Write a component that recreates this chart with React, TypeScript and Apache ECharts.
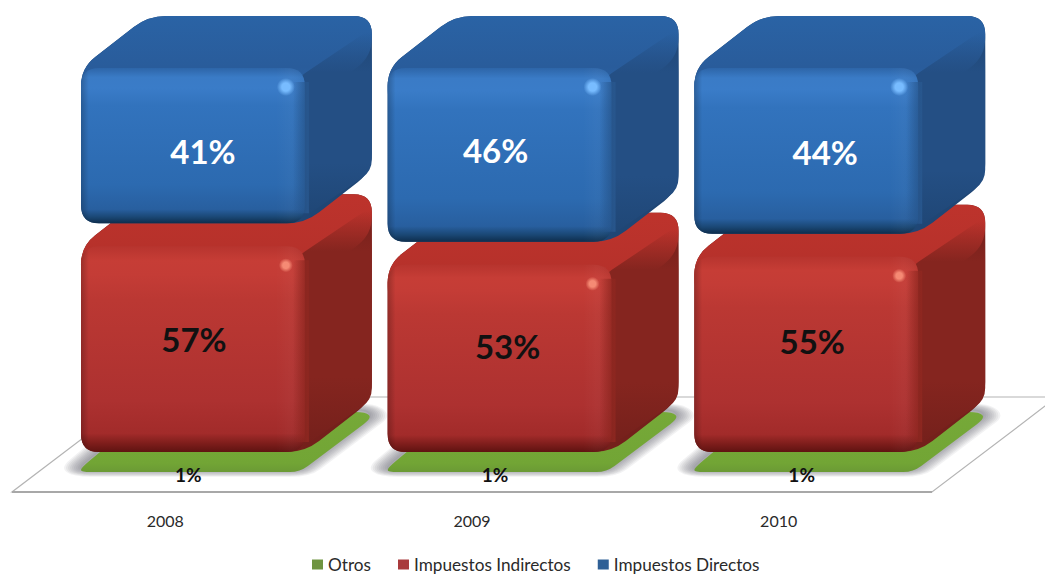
import React, { useEffect, useRef } from "react";
import * as echarts from "echarts";

const years = ["2008", "2009", "2010"];
const otros = [1, 1, 1];
const indirectos = [57, 53, 55];
const directos = [41, 46, 44];

const FONT = "Lato, 'Open Sans', sans-serif";

// Box projection, relative to the width of a category band.
const BOX_LEFT = -0.275;
const BOX_RIGHT = 0.455;
const DEPTH_X = 67;
const DEPTH_Y = -52;
const SIDE_FADE_PX = 42;

// Floor parallelogram.
const FLOOR = { left: 12, right: 932, front: 492, dx: 125, dy: -95 };

const totals = years.map((_, i) => otros[i] + indirectos[i] + directos[i]);

// Each stack is normalised to 100 %: rows are [category, start, end, stated value].
function stackRows(values: number[], below: number[][]) {
  return values.map((v, i) => {
    const base = below.reduce((s, b) => s + b[i], 0);
    return [i, (base / totals[i]) * 100, ((base + v) / totals[i]) * 100, v];
  });
}

type Pt = [number, number];

// Closed polygon whose corners are rounded with quadratic curves.
function rounded(points: Pt[], r: number) {
  const n = points.length;
  let d = "";
  for (let i = 0; i < n; i++) {
    const p = points[i];
    const a = points[(i + n - 1) % n];
    const b = points[(i + 1) % n];
    const la = Math.hypot(a[0] - p[0], a[1] - p[1]);
    const lb = Math.hypot(b[0] - p[0], b[1] - p[1]);
    const ra = Math.min(r, la / 2);
    const rb = Math.min(r, lb / 2);
    const s = [p[0] + ((a[0] - p[0]) * ra) / la, p[1] + ((a[1] - p[1]) * ra) / la];
    const e = [p[0] + ((b[0] - p[0]) * rb) / lb, p[1] + ((b[1] - p[1]) * rb) / lb];
    d += `${i === 0 ? "M" : "L"}${s[0]} ${s[1]}Q${p[0]} ${p[1]} ${e[0]} ${e[1]}`;
  }
  return d + "Z";
}

const vertical = (stops: [number, string][]) => ({
  type: "linear", x: 0, y: 0, x2: 0, y2: 1,
  colorStops: stops.map(([offset, color]) => ({ offset, color })),
});
const horizontal = (stops: [number, string][]) => ({
  type: "linear", x: 0, y: 0, x2: 1, y2: 0,
  colorStops: stops.map(([offset, color]) => ({ offset, color })),
});

const path = (d: string, fill: any, extra: any = {}, props: any = {}) => ({
  type: "path",
  shape: { pathData: d },
  style: { fill, ...extra },
  silent: true,
  ...props,
});

type Skin = {
  front: [number, string][];
  top: any;
  sideFade: string;
  sideSolid: string;
  base: string;
  seam: [string, string];
  spot: string;
  spotFade: string;
  spotR: number;
  insetTop: number;
  insetBottom: number;
  text: string;
  nudge: Pt[];
};

const blueSkin: Skin = {
  front: [
    [0, "#2d65a8"], [0.06, "#3a7bc6"], [0.13, "#3a7cc8"], [0.24, "#3273bd"], [0.75, "#2c6ab0"],
    [0.91, "#285f9f"], [0.96, "#1a4774"], [1, "#0e2d4c"],
  ],
  top: vertical([[0, "#2a63a5"], [0.55, "#295c9b"], [1, "#2d66a9"]]),
  sideFade: "rgba(36,79,132,0)",
  sideSolid: "#244f84",
  base: "#1f4675",
  seam: ["rgba(40,87,142,0)", "rgba(40,87,142,0.95)"],
  spot: "#78bcff",
  spotFade: "rgba(120,188,255,0)",
  spotR: 9,
  insetTop: 0,
  insetBottom: 12,
  text: "#ffffff",
  nudge: [[10, 5], [-4, -5], [19, 1]],
};

const redSkin: Skin = {
  front: [
    [0, "#b7342e"], [0.07, "#c63d36"], [0.14, "#c43c36"], [0.26, "#bb3833"], [0.75, "#ad3130"],
    [0.91, "#a22b2a"], [0.96, "#7d1d1b"], [1, "#5f1311"],
  ],
  top: vertical([[0, "#bd332c"], [1, "#b2302a"]]),
  sideFade: "rgba(133,37,31,0)",
  sideSolid: "#85251f",
  base: "#74201b",
  seam: ["rgba(142,39,32,0)", "rgba(142,39,32,0.95)"],
  spot: "#f58a74",
  spotFade: "rgba(245,138,116,0)",
  spotR: 7,
  insetTop: 11,
  insetBottom: 16,
  text: "#111111",
  nudge: [[1, -10], [8, -12], [6, -13]],
};

// A solid bevelled box: top, side and front faces plus its value label.
function boxRenderer(skin: Skin) {
  return (_params: any, api: any) => {
    const cat = api.value(0);
    const band = api.size([1, 0])[0];
    const center = api.coord([cat, 0])[0];
    const x0 = center + band * BOX_LEFT;
    const x1 = center + band * BOX_RIGHT;
    const yT = api.coord([cat, api.value(2)])[1] + skin.insetTop;
    const yB = api.coord([cat, api.value(1)])[1] - skin.insetBottom;
    const dx = DEPTH_X;
    const dy = DEPTH_Y;

    const outline: Pt[] = [
      [x0, yB], [x1, yB], [x1 + dx, yB + dy], [x1 + dx, yT + dy], [x0 + dx, yT + dy], [x0, yT],
    ];
    // Upper part of the silhouette, so the slanted edges keep the top face's colour.
    const top: Pt[] = [
      [x0, yT + 40], [x0, yT], [x0 + dx, yT + dy], [x1 + dx, yT + dy], [x1 + dx, yT + dy + 40], [x1, yT + 40],
    ];
    const side: Pt[] = [[x1 - 10, yT + 12], [x1 + dx, yT + dy + 12], [x1 + dx, yB + dy], [x1 - 10, yB]];
    const front: Pt[] = [[x0, yT], [x1, yT], [x1, yB], [x0, yB]];
    const sideHeight = yB - (yT + dy + 12);
    const fade = SIDE_FADE_PX / sideHeight;

    const children: any[] = [
      path(rounded(outline, 18), skin.base),
      path(rounded(top, 18), skin.top),
      path(rounded(side, 12), vertical([
        [0, skin.sideFade], [fade, skin.sideSolid], [0.7, skin.sideSolid], [1, skin.base],
      ])),
      path(rounded(front, 18), vertical(skin.front)),
      path(rounded(front, 18), horizontal([
        [0, "rgba(0,0,0,0.22)"], [0.035, "rgba(0,0,0,0)"], [0.87, "rgba(255,255,255,0)"],
        [0.93, "rgba(255,255,255,0.025)"], [1, "rgba(0,0,0,0.06)"],
      ])),
      // Soft seam where the front face turns into the side.
      {
        type: "rect",
        shape: { x: x1 - 12, y: yT + 14, width: 16, height: yB - yT - 24 },
        style: { fill: horizontal([[0, skin.seam[0]], [1, skin.seam[1]]]) },
        silent: true,
      },
      {
        type: "circle",
        shape: { cx: x1 - 19, cy: yT + 19, r: skin.spotR },
        style: {
          fill: {
            type: "radial", x: 0.5, y: 0.5, r: 0.5,
            colorStops: [
              { offset: 0, color: skin.spot },
              { offset: 0.45, color: skin.spot },
              { offset: 1, color: skin.spotFade },
            ],
          },
        },
        silent: true,
      },
      {
        type: "text",
        style: {
          x: (x0 + x1) / 2 + skin.nudge[cat][0],
          y: (yT + yB) / 2 + skin.nudge[cat][1],
          text: `${api.value(3)}%`,
          fill: skin.text,
          font: `bold 33px ${FONT}`,
          align: "center",
          verticalAlign: "middle",
        },
        silent: true,
      },
    ];
    return { type: "group", children };
  };
}

// Soft shadow built from widening translucent strokes around the plate;
// the path is stretched vertically and scaled back so the blur is wider than tall.
const SHADOW_WIDTHS = [34, 30, 26, 22, 18, 14, 10, 6, 2];
const SHADOW_STRETCH = 2.5;

// The thin base segment lies almost flat on the floor and casts a soft shadow.
function plateRenderer(_params: any, api: any) {
  const cat = api.value(0);
  const band = api.size([1, 0])[0];
  const center = api.coord([cat, 0])[0];
  const x0 = center + band * BOX_LEFT;
  const x1 = center + band * BOX_RIGHT;
  const yT = api.coord([cat, api.value(2)])[1];
  const yB = api.coord([cat, api.value(1)])[1];
  const plateDepth = DEPTH_Y - 4;
  const outline: Pt[] = [
    [x0, yB], [x1 - 5, yB], [x1 + DEPTH_X, yB + plateDepth + 2], [x1 + DEPTH_X - 6, yT + plateDepth],
    [x0 + DEPTH_X, yT + plateDepth], [x0, yT],
  ];
  const stretched = outline.map(([x, y]): Pt => [x, y * SHADOW_STRETCH]);
  const shadow = rounded(stretched, 10);
  return {
    type: "group",
    children: [
      ...SHADOW_WIDTHS.map((w) =>
        path(
          shadow,
          "none",
          { stroke: "rgba(85,85,98,0.075)", lineWidth: w, lineJoin: "round" },
          { scaleY: 1 / SHADOW_STRETCH, y: -2 },
        ),
      ),
      path(rounded(outline, 10), vertical([[0, "#76a938"], [0.85, "#72a535"], [1, "#6b9a35"]])),
      {
        type: "text",
        style: {
          x: center + band * 0.075,
          y: yB + 2,
          text: `${api.value(3)}%`,
          fill: "#111111",
          font: `bold 19px ${FONT}`,
          align: "center",
          verticalAlign: "middle",
        },
        silent: true,
      },
    ],
  };
}

export default function App() {
  const ref = useRef<HTMLDivElement>(null);

  useEffect(() => {
    const chart = echarts.init(ref.current!, undefined, { renderer: "svg" });
    const f = FLOOR;
    const encode = { x: 0, y: [1, 2] };
    chart.setOption({
      animation: false,
      backgroundColor: "#ffffff",
      grid: { left: f.left, right: 1045 - f.right, top: 68, bottom: 104 },
      xAxis: {
        type: "category",
        data: years,
        axisLine: { show: false },
        axisTick: { show: false },
        axisLabel: { margin: 40, fontFamily: FONT, fontSize: 16, color: "#2a2a2a" },
      },
      yAxis: { type: "value", min: 0, max: 100, show: false },
      legend: {
        left: 312,
        top: 552,
        padding: [4, 0, 4, 0],
        itemWidth: 11,
        itemHeight: 10,
        itemGap: 27,
        icon: "rect",
        textStyle: { fontFamily: FONT, fontSize: 17.2, color: "#2a2a2a" },
        selectedMode: false,
        data: ["Otros", "Impuestos Indirectos", "Impuestos Directos"],
      },
      graphic: [
        {
          type: "polygon",
          z: 0,
          silent: true,
          shape: {
            points: [
              [f.left, f.front],
              [f.right, f.front],
              [f.right + f.dx, f.front + f.dy],
              [f.left + f.dx, f.front + f.dy],
            ],
          },
          style: { fill: "#ffffff", stroke: "#b4b4b4", lineWidth: 1.2 },
        },
        {
          type: "line",
          z: 0,
          silent: true,
          shape: { x1: f.left, y1: f.front, x2: f.right, y2: f.front },
          style: { stroke: "#a8a8a8", lineWidth: 2 },
        },
      ],
      series: [
        {
          type: "custom",
          name: "Otros",
          renderItem: plateRenderer,
          encode,
          itemStyle: { color: "#6f9440" },
          silent: true,
          data: stackRows(otros, []),
        },
        {
          type: "custom",
          name: "Impuestos Indirectos",
          renderItem: boxRenderer(redSkin),
          encode,
          itemStyle: { color: "#a93a3c" },
          silent: true,
          data: stackRows(indirectos, [otros]),
        },
        {
          type: "custom",
          name: "Impuestos Directos",
          renderItem: boxRenderer(blueSkin),
          encode,
          itemStyle: { color: "#2f6096" },
          silent: true,
          data: stackRows(directos, [otros, indirectos]),
        },
      ],
    });
    return () => chart.dispose();
  }, []);

  return <div ref={ref} style={{ position: "fixed", left: 0, top: 0, width: 1045, height: 576 }} />;
}
